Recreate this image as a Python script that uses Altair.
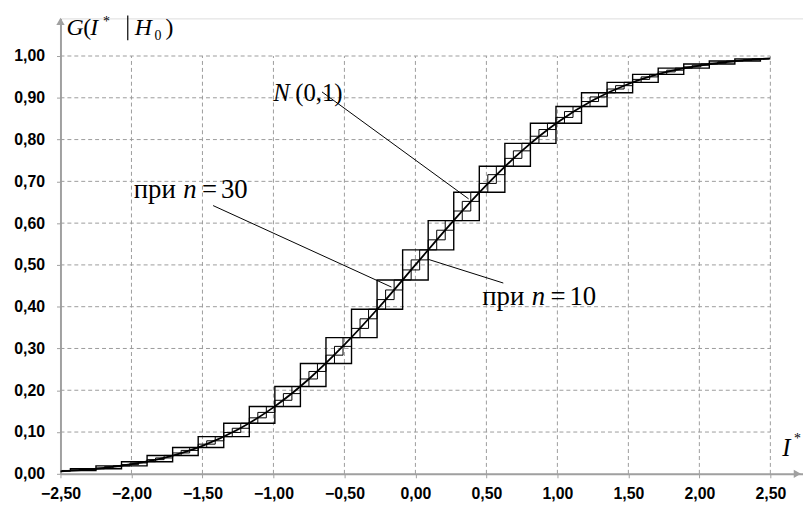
import altair as alt
import pandas as pd

# ---------------- data ----------------
x_ticks = [-2.5, -2.0, -1.5, -1.0, -0.5, 0.0, 0.5, 1.0, 1.5, 2.0, 2.5]
y_ticks = [0.0, 0.1, 0.2, 0.3, 0.4, 0.5, 0.6, 0.7, 0.8, 0.9, 1.0]

# N(0,1) curve
curve_x = [-2.5, -2.25, -2.0, -1.75, -1.5, -1.25, -1.0, -0.75, -0.5, -0.25, 0.0,
           0.25, 0.5, 0.75, 1.0, 1.25, 1.5, 1.75, 2.0, 2.25, 2.5]
curve_y = [0.006, 0.012, 0.023, 0.040, 0.067, 0.106, 0.159, 0.227, 0.309, 0.401, 0.500,
           0.599, 0.691, 0.773, 0.841, 0.894, 0.933, 0.960, 0.977, 0.988, 0.994]

# step corners, n = 10
n10_x = [-2.43, -2.25, -2.07, -1.89, -1.71, -1.53, -1.35, -1.17, -0.99, -0.81, -0.63, -0.45, -0.27, -0.09,
         0.09, 0.27, 0.45, 0.63, 0.81, 0.99, 1.17, 1.35, 1.53, 1.71, 1.89, 2.07, 2.25, 2.43]
n10_y = [0.008, 0.012, 0.019, 0.029, 0.044, 0.063, 0.089, 0.121, 0.161, 0.209, 0.264, 0.326, 0.394, 0.464,
         0.536, 0.606, 0.674, 0.736, 0.791, 0.839, 0.879, 0.912, 0.937, 0.956, 0.971, 0.981, 0.988, 0.993]

# step corners, n = 30
n30_x = [-2.49, -2.43, -2.37, -2.31, -2.25, -2.19, -2.13, -2.07, -2.01, -1.95, -1.89, -1.83, -1.77, -1.71,
         -1.65, -1.59, -1.53, -1.47, -1.41, -1.35, -1.29, -1.23, -1.17, -1.11, -1.05, -0.99, -0.93, -0.87,
         -0.81, -0.75, -0.69, -0.63, -0.57, -0.51, -0.45, -0.39, -0.33, -0.27, -0.21, -0.15, -0.09, -0.03,
         0.03, 0.09, 0.15, 0.21, 0.27, 0.33, 0.39, 0.45, 0.51, 0.57, 0.63, 0.69, 0.75, 0.81,
         0.87, 0.93, 0.99, 1.05, 1.11, 1.17, 1.23, 1.29, 1.35, 1.41, 1.47, 1.53, 1.59, 1.65,
         1.71, 1.77, 1.83, 1.89, 1.95, 2.01, 2.07, 2.13, 2.19, 2.25, 2.31, 2.37, 2.43, 2.49]
n30_y = [0.006, 0.008, 0.009, 0.010, 0.012, 0.014, 0.017, 0.019, 0.022, 0.026, 0.029, 0.034, 0.038, 0.044,
         0.050, 0.056, 0.063, 0.071, 0.079, 0.089, 0.099, 0.109, 0.121, 0.134, 0.147, 0.161, 0.176, 0.192,
         0.209, 0.227, 0.245, 0.264, 0.284, 0.305, 0.326, 0.348, 0.371, 0.394, 0.417, 0.440, 0.464, 0.488,
         0.512, 0.536, 0.560, 0.583, 0.606, 0.629, 0.652, 0.674, 0.695, 0.716, 0.736, 0.755, 0.773, 0.791,
         0.808, 0.824, 0.839, 0.853, 0.867, 0.879, 0.891, 0.902, 0.912, 0.921, 0.929, 0.937, 0.944, 0.950,
         0.956, 0.962, 0.966, 0.971, 0.974, 0.978, 0.981, 0.983, 0.986, 0.988, 0.990, 0.991, 0.993, 0.994]

# annotation texts (positions in data units)
ann_text = ["G", "(", "I", "*", "H", "0", ")",
            "N", "(0,1)",
            "при", "n", "=", "30",
            "при", "n", "=", "10",
            "I", "*"]
ann_x = [-2.458, -2.340, -2.291, -2.200, -1.977, -1.838, -1.761,
         -1.001, -0.847,
         -1.984, -1.635, -1.503, -1.370,
         0.471, 0.820, 0.952, 1.085,
         2.584, 2.667]
ann_y = [1.050, 1.050, 1.050, 1.071, 1.050, 1.038, 1.050,
         0.893, 0.893,
         0.660, 0.660, 0.660, 0.660,
         0.405, 0.405, 0.405, 0.405,
         0.043, 0.074]
ann_italic = [True, False, True, False, True, False, False,
              True, False,
              False, True, False, False,
              False, True, False, False,
              True, False]
ann_size = [24, 24, 24, 14, 24, 14, 24,
            25, 25,
            27, 27, 27, 27,
            27, 27, 27, 27,
            25, 14]

# leader lines
lead_x1 = [-0.658, -1.425, 0.089]
lead_y1 = [0.914, 0.642, 0.5135]
lead_x2 = [0.375, -0.169, 0.619]
lead_y2 = [0.658, 0.447, 0.4566]

X_DOMAIN = [-2.5, 2.73]
Y_DOMAIN = [0.0, 1.09]
GRID = "#9c9c9c"
AXIS = "#a0a0a0"

# ---------------- tables ----------------
def stairs(xs, ys, name):
    rows = []
    o = 0
    for k in range(len(xs) - 1):
        rows.append(dict(path=name + "_lo", o=o, x=xs[k], y=ys[k])); o += 1
        rows.append(dict(path=name + "_lo", o=o, x=xs[k + 1], y=ys[k])); o += 1
    rows.append(dict(path=name + "_lo", o=o, x=xs[-1], y=ys[-1]))
    o = 0
    for k in range(len(xs) - 1):
        rows.append(dict(path=name + "_up", o=o, x=xs[k], y=ys[k])); o += 1
        rows.append(dict(path=name + "_up", o=o, x=xs[k], y=ys[k + 1])); o += 1
    rows.append(dict(path=name + "_up", o=o, x=xs[-1], y=ys[-1]))
    return pd.DataFrame(rows)

st10 = stairs(n10_x, n10_y, "n10")
st30 = stairs(n30_x, n30_y, "n30")
curve = pd.DataFrame({"x": curve_x, "y": curve_y})

vgrid = pd.DataFrame({"x": x_ticks[1:], "y0": 0.0, "y1": 1.0})
hgrid = pd.DataFrame({"y": y_ticks[1:], "x0": -2.5, "x1": 2.5})

ann = pd.DataFrame({"t": ann_text, "x": ann_x, "y": ann_y, "it": ann_italic, "s": ann_size})
lead = pd.DataFrame({"x": lead_x1, "y": lead_y1, "x2": lead_x2, "y2": lead_y2})

xs = alt.Scale(domain=X_DOMAIN, nice=False, zero=False)
ys = alt.Scale(domain=Y_DOMAIN, nice=False, zero=False)
lbl = "replace(format(datum.value, '.2f'), '.', ',')"

xaxis = alt.Axis(values=x_ticks, labelExpr=lbl, title=None, grid=False,
                 domainColor=AXIS, domainWidth=2, tickColor=AXIS, tickSize=4,
                 labelFont="Liberation Sans", labelFontWeight="bold", labelFontSize=16,
                 labelColor="black", labelPadding=8, labelFlush=False, labelOverlap=False)
yaxis = alt.Axis(values=y_ticks, labelExpr=lbl, title=None, grid=False,
                 domainColor=AXIS, domainWidth=2, tickColor=AXIS, tickSize=4,
                 labelFont="Liberation Sans", labelFontWeight="bold", labelFontSize=16,
                 labelColor="black", labelPadding=12, labelFlush=False, labelOverlap=False)

base_axes = alt.Chart(curve).mark_point(opacity=0).encode(
    x=alt.X("x:Q", scale=xs, axis=xaxis),
    y=alt.Y("y:Q", scale=ys, axis=yaxis),
)

vg = alt.Chart(vgrid).mark_rule(color=GRID, strokeDash=[4, 3], strokeWidth=1).encode(
    x=alt.X("x:Q", scale=xs), y=alt.Y("y0:Q", scale=ys), y2="y1:Q")
hg = alt.Chart(hgrid).mark_rule(color=GRID, strokeDash=[4, 3], strokeWidth=1).encode(
    y=alt.Y("y:Q", scale=ys), x=alt.X("x0:Q", scale=xs), x2="x1:Q")

s30 = alt.Chart(st30).mark_line(color="black", strokeWidth=1).encode(
    x=alt.X("x:Q", scale=xs), y=alt.Y("y:Q", scale=ys), order="o:Q", detail="path:N")
s10 = alt.Chart(st10).mark_line(color="black", strokeWidth=1.4).encode(
    x=alt.X("x:Q", scale=xs), y=alt.Y("y:Q", scale=ys), order="o:Q", detail="path:N")
cv = alt.Chart(curve).mark_line(color="black", strokeWidth=1.8, interpolate="monotone").encode(
    x=alt.X("x:Q", scale=xs), y=alt.Y("y:Q", scale=ys))

leaders = alt.Chart(lead).mark_rule(color="black", strokeWidth=1).encode(
    x=alt.X("x:Q", scale=xs), y=alt.Y("y:Q", scale=ys), x2="x2:Q", y2="y2:Q")

bar = alt.Chart(pd.DataFrame({"x": [-2.026], "y": [1.097], "y2": [1.038]})).mark_rule(
    color="black", strokeWidth=1.2).encode(
    x=alt.X("x:Q", scale=xs), y=alt.Y("y:Q", scale=ys), y2="y2:Q")

arrows = alt.Chart(pd.DataFrame({"x": [2.69, -2.5], "y": [0.0, 1.083],
                                 "sh": ["triangle-right", "triangle-up"]})).mark_point(
    filled=True, color=AXIS, size=70, opacity=1).encode(
    x=alt.X("x:Q", scale=xs), y=alt.Y("y:Q", scale=ys),
    shape=alt.Shape("sh:N", scale=None))

txt_it = alt.Chart(ann).transform_filter("datum.it").mark_text(
    font="Liberation Serif", fontStyle="italic", align="left", baseline="alphabetic", color="black").encode(
    x=alt.X("x:Q", scale=xs), y=alt.Y("y:Q", scale=ys), text="t:N", size=alt.Size("s:Q", scale=None))
txt_rm = alt.Chart(ann).transform_filter("!datum.it").mark_text(
    font="Liberation Serif", align="left", baseline="alphabetic", color="black").encode(
    x=alt.X("x:Q", scale=xs), y=alt.Y("y:Q", scale=ys), text="t:N", size=alt.Size("s:Q", scale=None))

chart = alt.layer(base_axes, vg, hg, s30, s10, cv, leaders, bar, arrows, txt_it, txt_rm).properties(
    width=750, height=460,
    autosize=alt.AutoSizeParams(type="none"),
    padding={"left": 53, "top": 8, "right": 0, "bottom": 30},
).configure_view(stroke=None).configure(background="white")

chart.save("out.html", embed_options={"renderer": "svg", "actions": False})
